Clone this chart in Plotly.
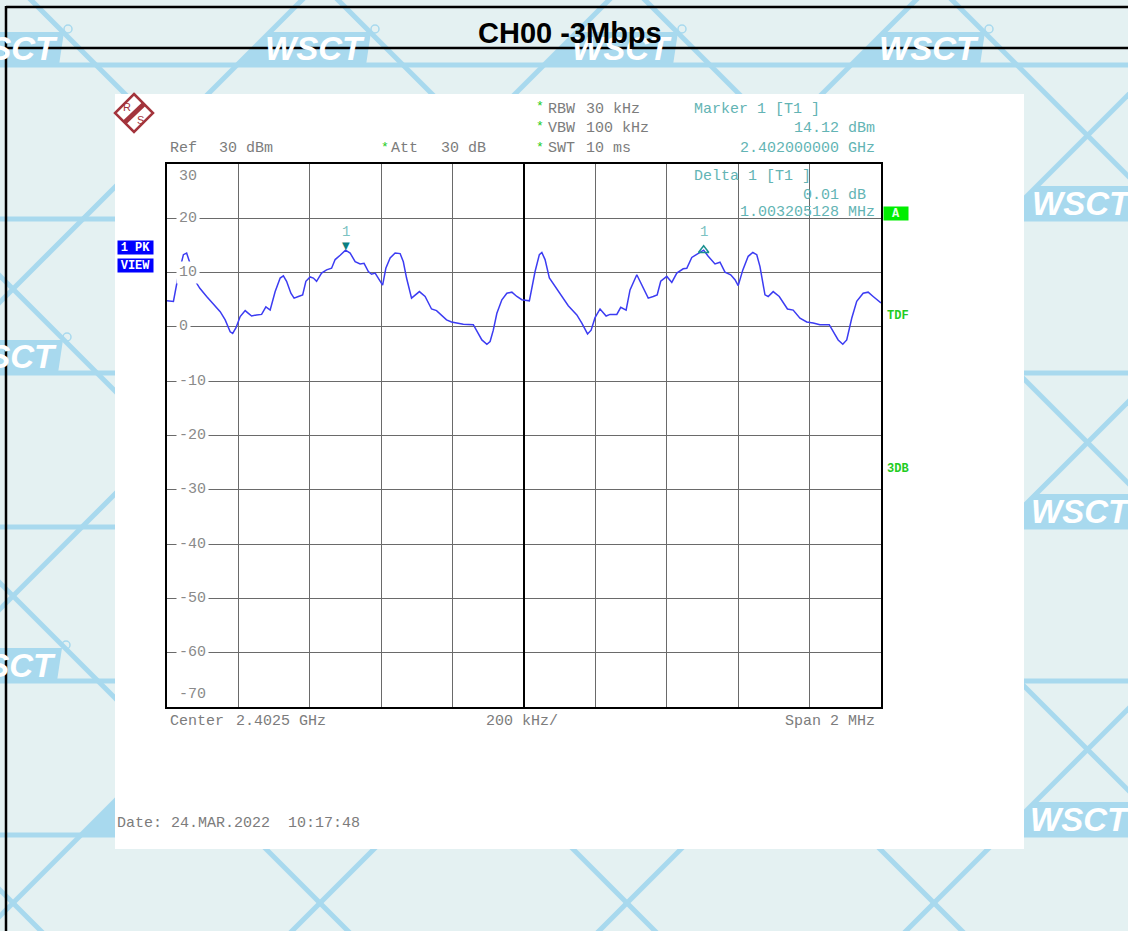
import plotly.graph_objects as go

# ---------------------------------------------------------------- data
START_MHZ = 2401.5
CENTER_MHZ = 2402.5
SPAN_MHZ = 2.0
REF_DBM = 30
ATT_DB = 30
BOTTOM_DBM = -70
DIV_KHZ = 200

# trace: offset from start of span (kHz) and level (dBm)
offset_khz = [
    0, 4, 18, 32, 46, 55, 63, 74, 92, 111, 130, 149, 163, 177, 184, 193, 205,
    219, 228, 237, 251, 265, 277, 289, 303, 317, 326, 335, 347, 356, 368, 380,
    389, 401, 410, 419, 433, 447, 461, 471, 485, 500, 513, 527, 541, 552, 564,
    573, 583, 595, 604, 613, 625, 639, 653, 662, 671, 685, 695, 707, 723, 741,
    755, 769, 783, 797, 811, 830, 858, 869, 882, 896, 905, 914, 924, 938, 952,
    966, 980, 994, 1015, 1031, 1043, 1050, 1059, 1071, 1090, 1106, 1124, 1148,
    1162, 1178, 1188, 1199, 1213, 1230, 1241, 1260, 1271, 1286, 1297, 1316,
    1330, 1348, 1362, 1373, 1383, 1400, 1414, 1428, 1446, 1456, 1470, 1484,
    1503.205128, 1516, 1535, 1549, 1563, 1579, 1591, 1600, 1613, 1628, 1641,
    1652, 1661, 1675, 1684, 1698, 1715, 1738, 1754, 1773, 1792, 1810, 1829,
    1855, 1866, 1880, 1893, 1904, 1918, 1932, 1950, 1964, 1978, 1993, 2000,
]
level_dbm = [
    4.8, 4.8, 4.7, 9.6, 13.3, 13.6, 12.0, 9.0, 7.1, 5.6, 4.1, 2.8, 1.3, -0.9,
    -1.2, -0.2, 1.9, 3.0, 2.5, 2.0, 2.2, 2.3, 3.7, 3.1, 6.5, 9.0, 9.4, 8.4, 6.2,
    5.3, 5.6, 5.9, 8.4, 9.2, 9.0, 8.4, 9.9, 10.5, 10.8, 12.4, 13.2, 14.12, 13.6,
    12.0, 11.6, 11.7, 10.2, 9.7, 9.9, 8.7, 7.7, 10.8, 12.7, 13.6, 13.5, 12.0,
    9.0, 5.3, 5.9, 6.5, 5.6, 3.3, 3.0, 2.2, 1.3, 0.9, 0.7, 0.5, 0.4, -0.9, -2.4,
    -3.2, -2.7, -0.6, 2.5, 5.0, 6.2, 6.4, 5.6, 5.0, 4.8, 10.2, 13.3, 13.7, 12.4,
    9.0, 7.1, 5.6, 3.9, 2.2, 0.7, -1.3, -0.6, 1.7, 3.3, 2.0, 2.3, 2.3, 3.6, 3.1,
    6.8, 9.6, 7.7, 5.3, 5.6, 5.9, 8.4, 9.3, 8.2, 9.9, 10.7, 10.8, 12.8, 13.4,
    14.13, 13.0, 11.6, 11.9, 10.1, 9.6, 8.7, 7.6, 10.5, 13.0, 13.7, 13.3, 11.1,
    5.9, 5.6, 6.5, 5.6, 3.3, 3.1, 1.6, 0.9, 0.7, 0.4, 0.4, -0.9, -2.4, -3.2,
    -2.4, 1.6, 4.7, 6.2, 6.4, 5.6, 4.7, 4.4,
]

MARKER1_MHZ = 2402.0
MARKER1_DBM = 14.12
DELTA1_MHZ = 1.003205128
DELTA1_DB = 0.01

level_ticks = [30, 20, 10, 0, -10, -20, -30, -40, -50, -60, -70]

TITLE = "CH00 -3Mbps"
DATE_TEXT = "Date: 24.MAR.2022  10:17:48"

freq_mhz = [START_MHZ + k / 1000.0 for k in offset_khz]

# ---------------------------------------------------------------- page helpers
W, H = 1128, 931


def X(p):
    return p / W


def Y(p):
    return 1 - p / H


MONO = "Liberation Mono, Courier New, monospace"
GRAY = "#7c7c7c"
TEAL = "#63b4b4"
GREEN = "#22cc22"
WM = "#a8d9ee"
RS_RED = "#a3343c"

shapes = []
annotations = []


def label(x, y, s, color, size, family=MONO, xanchor="center", **kw):
    annotations.append(dict(
        x=X(x), y=Y(y), xref="paper", yref="paper", text=s, showarrow=False,
        xanchor=xanchor, yanchor="middle", font=dict(family=family, size=size, color=color),
        **kw))


def text(x, y, s, color=GRAY, size=15, anchor="left"):
    label(x, y, s, color, size, xanchor=anchor, borderpad=0)


# ---------------------------------------------------------------- watermark
for k in range(-1, 8):
    d = -5 + 307 * k
    shapes.append(dict(type="line", xref="paper", yref="paper", layer="below",
                       x0=X(d + 100), y0=Y(-100), x1=X(d - 1200), y1=Y(1200),
                       line=dict(color=WM, width=5)))
for k in range(-5, 5):
    c = -31 + 307 * k
    shapes.append(dict(type="line", xref="paper", yref="paper", layer="below",
                       x0=X(-100), y0=Y(-100 + c), x1=X(1300), y1=Y(1300 + c),
                       line=dict(color=WM, width=5)))
for r in range(6):
    yb = 65 + 154 * r
    shapes.append(dict(type="line", xref="paper", yref="paper", layer="below",
                       x0=X(-10), y0=Y(yb), x1=X(1140), y1=Y(yb),
                       line=dict(color=WM, width=5)))

WHITE_BOX = (115, 94, 1024, 849)
for r in range(6):
    yb = 65 + 154 * r
    for k in range(0, 8):
        xl = -5 + 307 * k - yb
        if xl + 140 < 0 or xl > W:
            continue
        hidden = (xl + 33 >= WHITE_BOX[0] and xl + 140 <= WHITE_BOX[2]
                  and yb - 33 >= WHITE_BOX[1] and yb <= WHITE_BOX[3])
        if hidden:
            continue
        path = (f"M {X(xl)},{Y(yb)} L {X(xl + 33)},{Y(yb - 33)} "
                f"L {X(xl + 134)},{Y(yb - 33)} L {X(xl + 129)},{Y(yb)} Z")
        shapes.append(dict(type="path", xref="paper", yref="paper", layer="below",
                           path=path, fillcolor=WM, line=dict(width=0)))
        shapes.append(dict(type="circle", xref="paper", yref="paper", layer="below",
                           x0=X(xl + 134), x1=X(xl + 142), y0=Y(yb - 32), y1=Y(yb - 40),
                           line=dict(color=WM, width=1.5)))
        text_clear = (xl + 130 <= WHITE_BOX[0] or xl + 25 >= WHITE_BOX[2]
                      or yb <= WHITE_BOX[1] or yb - 33 >= WHITE_BOX[3])
        if text_clear:
            label(xl + 78, yb - 16, "<b><i>WSCT</i></b>", "white", 33,
                  family="Liberation Sans")

# white instrument screen
shapes.append(dict(type="rect", xref="paper", yref="paper", layer="below",
                   x0=X(WHITE_BOX[0]), y0=Y(WHITE_BOX[1]), x1=X(WHITE_BOX[2]), y1=Y(WHITE_BOX[3]),
                   fillcolor="white", line=dict(width=0)))

# report frame
for x0, y0, x1, y1 in [(6, 7, 1130, 7), (6, 48, 1130, 48), (6, 6, 6, 935)]:
    shapes.append(dict(type="line", xref="paper", yref="paper", layer="below",
                       x0=X(x0), y0=Y(y0), x1=X(x1), y1=Y(y1),
                       line=dict(color="black", width=2.5)))

label(570, 33, f"<b>{TITLE}</b>", "black", 29, family="Liberation Sans, Arial")

# R&S logo
shapes.append(dict(type="path", xref="paper", yref="paper", layer="above",
                   path=f"M {X(134)},{Y(94)} L {X(153)},{Y(113)} L {X(134)},{Y(132)} L {X(115)},{Y(113)} Z",
                   fillcolor="white", line=dict(color=RS_RED, width=2.5)))
shapes.append(dict(type="line", xref="paper", yref="paper", layer="above",
                   x0=X(144), y0=Y(104), x1=X(124), y1=Y(123), line=dict(color=RS_RED, width=5)))
label(127, 107, "R", RS_RED, 11, family="Liberation Sans")
label(140, 120, "S", RS_RED, 11, family="Liberation Sans")

# ---------------------------------------------------------------- instrument text
text(169, 149, "Ref")
text(218, 149, f"{REF_DBM} dBm")
text(380, 147, "*", color=GREEN, size=13)
text(390, 149, "Att")
text(440, 149, f"{ATT_DB} dB")
for yy, lab, val in [(109, "RBW", "30 kHz"), (129, "VBW", "100 kHz"), (149, "SWT", "10 ms")]:
    text(535, yy - 2, "*", color=GREEN, size=13)
    text(547, yy, lab)
    text(585, yy, val)

text(693, 110, "Marker 1 [T1 ]", color=TEAL)
text(876, 129, f"{MARKER1_DBM:.2f} dBm", color=TEAL, anchor="right")
text(876, 149, f"{MARKER1_MHZ / 1000:.9f} GHz", color=TEAL, anchor="right")
text(693, 176, "Delta 1 [T1 ]", color=TEAL)
text(867, 195, f"{DELTA1_DB:.2f} dB", color=TEAL, anchor="right")
text(876, 213, f"{DELTA1_MHZ:.9f} MHz", color=TEAL, anchor="right")

text(169, 721, "Center")
text(235, 721, f"{CENTER_MHZ / 1000:.4f} GHz")
text(485, 721, f"{DIV_KHZ} kHz/")
text(876, 721, f"Span {SPAN_MHZ:g} MHz", anchor="right")
text(116, 823, DATE_TEXT)

# side flags
label(135.5, 248, "<b>1 PK</b>", "white", 12, bgcolor="#0000ff", width=35, height=13, borderpad=0)
label(135.5, 265.5, "<b>VIEW</b>", "white", 12, bgcolor="#0000ff", width=35, height=13, borderpad=0)
label(896, 213.5, "<b>A</b>", "#e8ffe8", 12, bgcolor="#00ee00", width=24, height=13, borderpad=0)
text(886, 316, "<b>TDF</b>", color=GREEN, size=12)
text(886, 469, "<b>3DB</b>", color=GREEN, size=12)

# level labels printed on the graticule
for v in level_ticks:
    ann = dict(x=X(176), y=v, xref="paper", yref="y", text=str(v), showarrow=False,
               xanchor="left", yanchor="middle", font=dict(family=MONO, size=15, color="#8a8a8a"),
               borderpad=2)
    if v == REF_DBM:
        ann["yshift"] = -12
    elif v == BOTTOM_DBM:
        ann["yshift"] = 13
    else:
        ann["bgcolor"] = "white"
    annotations.append(ann)

# markers
m2_f = MARKER1_MHZ + DELTA1_MHZ
m2_l = MARKER1_DBM + DELTA1_DB
annotations.append(dict(x=MARKER1_MHZ, y=MARKER1_DBM, xref="x", yref="y", text="▼",
                        showarrow=False, xanchor="center", yanchor="middle", yshift=5,
                        font=dict(family="DejaVu Sans", size=10, color="#0b8080")))
for f, l in [(MARKER1_MHZ, MARKER1_DBM), (m2_f, m2_l)]:
    annotations.append(dict(x=f, y=l, xref="x", yref="y", text="1", showarrow=False,
                            xanchor="center", yanchor="middle", yshift=18,
                            font=dict(family=MONO, size=14, color="#7cc2c2")))

# ---------------------------------------------------------------- figure
fig = go.Figure()
# centre line of the graticule
fig.add_trace(go.Scatter(x=[CENTER_MHZ, CENTER_MHZ], y=[BOTTOM_DBM, REF_DBM], mode="lines",
                         line=dict(color="black", width=2), hoverinfo="skip"))
fig.add_trace(go.Scatter(x=freq_mhz, y=level_dbm, mode="lines",
                         line=dict(color="#3c3cf2", width=1.5), hoverinfo="skip"))
fig.add_trace(go.Scatter(x=[m2_f], y=[m2_l], mode="markers",
                         marker=dict(symbol="triangle-up-open", size=9, color="#1a9090",
                                     line=dict(width=1.5, color="#1a9090")), hoverinfo="skip"))

fig.update_layout(
    width=W, height=H, margin=dict(l=0, r=0, t=0, b=0),
    paper_bgcolor="#e4f1f2", plot_bgcolor="white", showlegend=False,
    shapes=shapes, annotations=annotations,
    xaxis=dict(domain=[X(167), X(881)], range=[START_MHZ, START_MHZ + SPAN_MHZ],
               tick0=START_MHZ, dtick=DIV_KHZ / 1000, showticklabels=False, ticks="",
               showgrid=True, gridcolor="#6a6a6a", gridwidth=1, zeroline=False,
               showline=True, linecolor="black", linewidth=2, mirror=True, fixedrange=True),
    yaxis=dict(domain=[Y(707), Y(164)], range=[BOTTOM_DBM, REF_DBM], dtick=10,
               showticklabels=False, ticks="", showgrid=True, gridcolor="#6a6a6a", gridwidth=1,
               zeroline=False, showline=True, linecolor="black", linewidth=2, mirror=True,
               fixedrange=True),
)

fig.write_html("out.html")
